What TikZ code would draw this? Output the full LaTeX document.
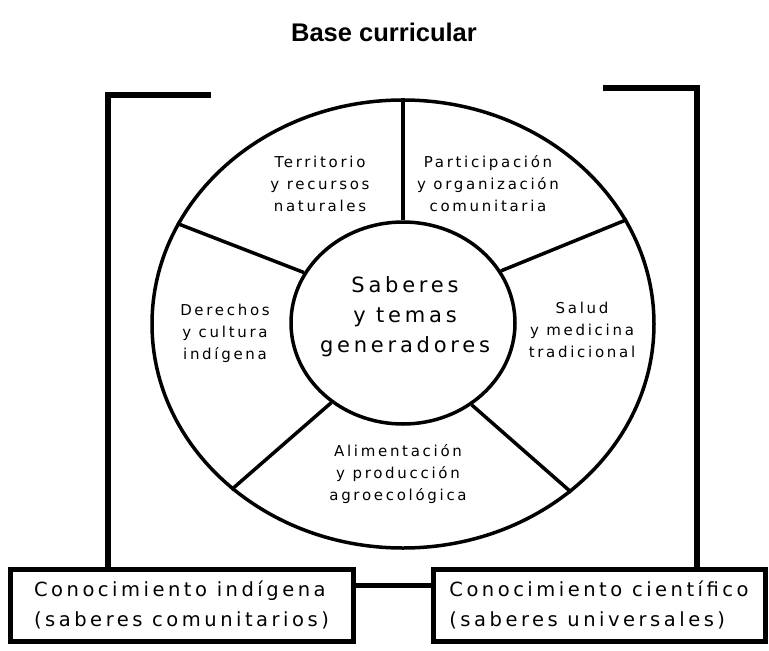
\documentclass[tikz,border=0pt]{standalone}
\usepackage{fontspec}
\setmainfont{DejaVu Sans}
\newfontfamily\lab[LetterSpace=18]{DejaVu Sans}
\newfontfamily\ttl{Liberation Sans}
\usetikzlibrary{shapes.geometric}
\begin{document}
\begin{tikzpicture}[x=1pt,y=-1pt,
  ring/.style={draw, ellipse, line width=3.5pt, inner sep=0pt},
  divider/.style={line width=3.5pt},
  bracket/.style={line width=6pt},
  sector/.style={align=center, font=\lab\fontsize{15}{22}\selectfont, inner sep=0pt},
  core/.style={align=center, font=\lab\fontsize{21}{30}\selectfont, inner sep=0pt},
  kbox/.style={draw, line width=5pt, align=left, minimum height=72pt, inner sep=0pt,
    font=\lab\fontsize{19.5}{30}\selectfont},
  link/.style={line width=5pt}]
\useasboundingbox (0,0) rectangle (769,651);
\fill[white] (0,0) rectangle (769,651);

\node[font=\ttl\bfseries\fontsize{25.5}{30}\selectfont] (title) at (384,32) {Base curricular};

\node[ring, minimum width=502pt, minimum height=448pt] (outer) at (403,324) {};
\node[ring, minimum width=224pt, minimum height=202pt] (inner) at (403,323) {};

\draw[divider] (inner.90) -- (outer.90);
\draw[divider] (inner.153) -- (outer.156);
\draw[divider] (inner.28) -- (outer.25);
\draw[divider] (inner.228) -- (outer.224);
\draw[divider] (inner.310) -- (outer.315);

\node[core] (center) at (405,317) {Saberes\\y temas\\generadores};
\node[sector] (tl) at (320,184) {Territorio\\y recursos\\naturales};
\node[sector] (tr) at (488,184) {Participación\\y organización\\comunitaria};
\node[sector] (lf) at (225,333) {Derechos\\y cultura\\indígena};
\node[sector] (rt) at (582,330) {Salud\\y medicina\\tradicional};
\node[sector] (bt) at (398,474) {Alimentación\\y producción\\agroecológica};

\node[kbox, minimum width=343pt] (kind) at (181.5,605) {Conocimiento indígena\\(saberes comunitarios)};
\node[kbox, minimum width=332pt] (kcie) at (599,605) {Conocimiento científico\\(saberes universales)};

\coordinate (lbs) at (211,95);
\coordinate (lbc) at (108,95);
\coordinate (rbs) at (603,88);
\coordinate (rbc) at (697,88);
\coordinate (cy) at (0,585);

\draw[bracket] (lbs) -- (lbc) -- (lbc |- kind.north);
\draw[bracket] (rbs) -- (rbc) -- (rbc |- kcie.north);
\draw[link] (kind.east |- cy) -- (kcie.west |- cy);
\end{tikzpicture}
\end{document}
